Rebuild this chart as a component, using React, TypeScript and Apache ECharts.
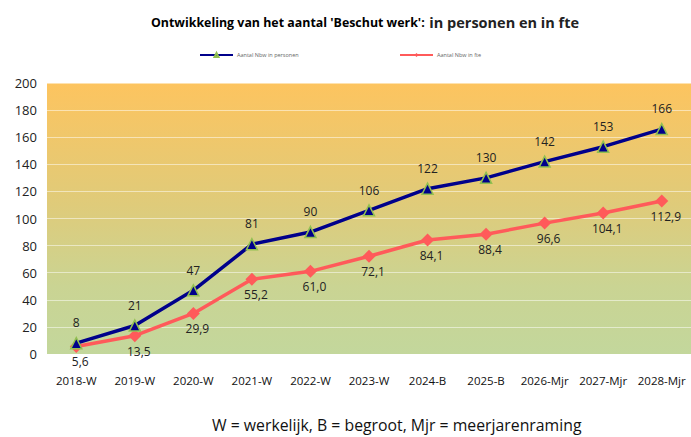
import React, { useEffect, useRef } from "react";
import * as echarts from "echarts";

const categories = ["2018-W", "2019-W", "2020-W", "2021-W", "2022-W", "2023-W", "2024-B", "2025-B", "2026-Mjr", "2027-Mjr", "2028-Mjr"];
const personen = [8, 21, 47, 81, 90, 106, 122, 130, 142, 153, 166];
const fte = [5.6, 13.5, 29.9, 55.2, 61.0, 72.1, 84.1, 88.4, 96.6, 104.1, 112.9];
const seriesNames = ["Aantal Nbw in personen", "Aantal Nbw in fte"];

const FONT = "'Open Sans', 'Liberation Sans', sans-serif";

export default function App() {
  const ref = useRef<HTMLDivElement>(null);
  useEffect(() => {
    const chart = echarts.init(ref.current!, null, { renderer: "svg" });
    const legendCommon = {
      top: 47,
      itemWidth: 33,
      itemHeight: 5,
      itemGap: 0,
      textStyle: { fontSize: 5.5, color: "#666", fontFamily: FONT, padding: [0, 0, 0, -1] },
      lineStyle: { width: 2 },
    };
    chart.setOption({
      animation: false,
      textStyle: { fontFamily: FONT },
      title: {
        text: "{b|Ontwikkeling van het aantal 'Beschut werk':} {n|in personen en in fte}",
        left: 360,
        textAlign: "center",
        top: 8,
        textStyle: {
          rich: {
            b: { fontFamily: FONT, fontWeight: "bold", fontSize: 12.4, color: "#000" },
            n: { fontFamily: FONT, fontSize: 14.5, color: "#222" },
          },
        },
      },
      legend: [
        { ...legendCommon, left: 194, data: [seriesNames[0]] },
        { ...legendCommon, left: 394, data: [seriesNames[1]] },
      ],
      graphic: [
        {
          type: "text",
          left: 212,
          top: 417,
          style: {
            text: "W = werkelijk, B = begroot, Mjr = meerjarenraming",
            font: `15.8px ${FONT}`,
            fill: "#111",
          },
        },
      ],
      grid: {
        left: 47,
        right: -4,
        top: 83,
        bottom: 83,
        show: true,
        borderWidth: 0,
        backgroundColor: new echarts.graphic.LinearGradient(0, 0, 0, 1, [
          { offset: 0, color: "#FDC45F" },
          { offset: 0.45, color: "#DFCB7A" },
          { offset: 0.75, color: "#CAD493" },
          { offset: 1, color: "#C3D79C" },
        ]),
      },
      xAxis: {
        type: "category",
        data: categories,
        boundaryGap: true,
        axisLine: { show: false },
        axisTick: { show: false },
        axisLabel: { color: "#111", fontSize: 11.5, margin: 20, interval: 0, fontFamily: FONT },
      },
      yAxis: {
        type: "value",
        min: 0,
        max: 200,
        interval: 20,
        axisLine: { show: false },
        axisTick: { show: false },
        axisLabel: { color: "#222", fontSize: 13, margin: 10, fontFamily: FONT },
        splitLine: { lineStyle: { color: "rgba(255,255,255,0.5)", width: 1 } },
      },
      series: [
        {
          name: seriesNames[0],
          type: "line",
          data: personen,
          symbol: "triangle",
          symbolSize: 11,
          z: 3,
          lineStyle: { color: "#00008B", width: 3.5 },
          itemStyle: { color: "#00008B", borderColor: "#92C050", borderWidth: 1.5 },
          label: {
            show: true,
            position: "top",
            distance: 8,
            color: "#222",
            fontSize: 12,
            fontFamily: FONT,
          },
        },
        {
          name: seriesNames[1],
          type: "line",
          data: fte,
          symbol: "diamond",
          symbolSize: 13,
          z: 2,
          lineStyle: { color: "#FF5A5A", width: 3.5 },
          itemStyle: { color: "#FF5A5A" },
          label: {
            show: true,
            position: "bottom",
            distance: 3,
            offset: [4, 0],
            color: "#222",
            fontSize: 12,
            fontFamily: FONT,
            formatter: (p: any) => p.value.toFixed(1).replace(".", ","),
          },
        },
      ],
    });
    return () => chart.dispose();
  }, []);
  return <div ref={ref} style={{ width: 691, height: 437, position: "absolute", left: 0, top: 0 }} />;
}
